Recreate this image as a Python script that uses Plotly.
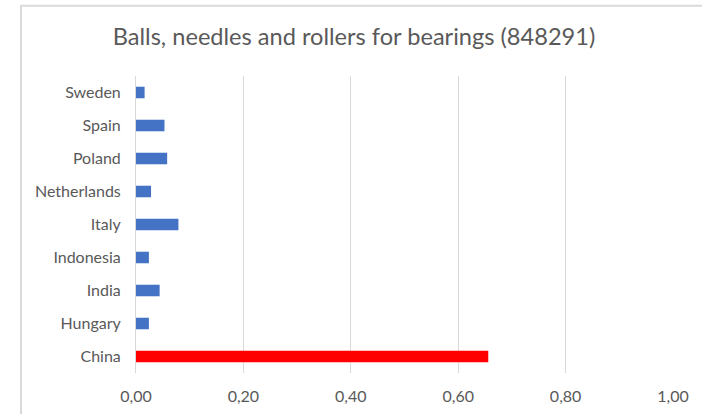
import plotly.graph_objects as go

countries = ["China", "Hungary", "India", "Indonesia", "Italy",
             "Netherlands", "Poland", "Spain", "Sweden"]
shares = [0.656, 0.024, 0.044, 0.024, 0.079, 0.028, 0.058, 0.053, 0.016]
x_ticks = [0.0, 0.2, 0.4, 0.6, 0.8, 1.0]
title_text = "Balls, needles and rollers for bearings (848291)"
highlight = "China"

W, H = 702, 414
L, R, T, B = 136, 29, 75.5, 40.5
pw, ph = W - L - R, H - T - B

bar_colors = ["#FF0000" if c == highlight else "#4472C4" for c in countries]

fig = go.Figure(go.Bar(
    x=shares, y=countries, orientation="h",
    marker=dict(color=bar_colors, line=dict(width=0)),
    hoverinfo="x+y",
))

font_family = "Lato, 'Open Sans', sans-serif"
fig.update_layout(
    width=W, height=H,
    margin=dict(l=L, r=R, t=T, b=B, pad=0, autoexpand=False),
    paper_bgcolor="white", plot_bgcolor="white",
    separators=",.",
    bargap=0.65,
    showlegend=False,
    font=dict(family=font_family, color="#595959", size=16),
    title=dict(text=title_text, x=354 / W, xanchor="center",
               xref="container", yref="container",
               y=1 - 37 / H, yanchor="middle",
               font=dict(size=23.6, color="#595959", family=font_family)),
    xaxis=dict(range=[0, 1.0], tickvals=x_ticks, tickformat=".2f",
               showgrid=True, gridcolor="#D9D9D9", gridwidth=1,
               zeroline=False, showline=False, ticks="",
               ticklabelstandoff=12, automargin=False,
               tickfont=dict(size=16, color="#595959"),
               fixedrange=True),
    yaxis=dict(showgrid=False, zeroline=False, showline=True,
               linecolor="#D9D9D9", linewidth=1, ticks="",
               ticklabelstandoff=11, automargin=False,
               tickfont=dict(size=16, color="#595959"),
               fixedrange=True),
    shapes=[dict(type="rect", xref="paper", yref="paper",
                 x0=(21 - L) / pw, x1=(W + 20 - L) / pw,
                 y0=-(B + 20) / ph, y1=(H - B - 5) / ph,
                 line=dict(color="#D9D9D9", width=2), fillcolor="rgba(0,0,0,0)",
                 layer="below")],
)

fig.write_html("out.html", config={"displayModeBar": False},
               post_script="document.body.style.margin='0';document.body.style.overflow='hidden';")
